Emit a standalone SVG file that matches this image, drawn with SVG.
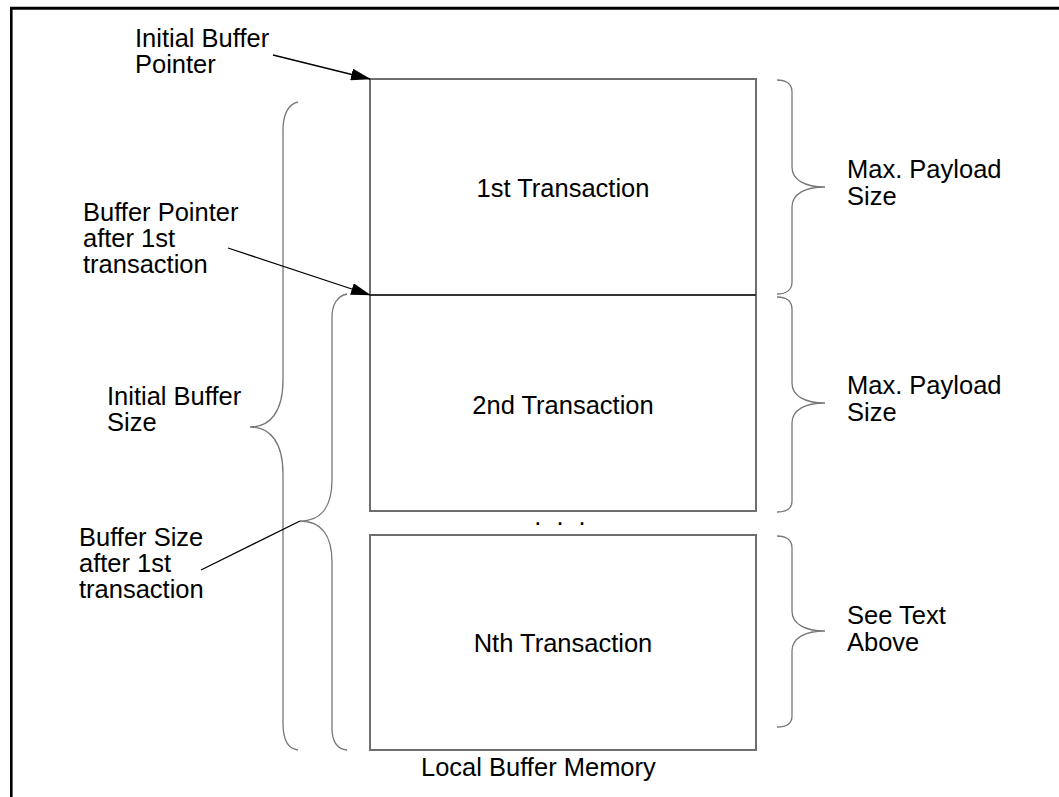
<svg xmlns="http://www.w3.org/2000/svg" width="1059" height="797" viewBox="0 0 1059 797">
<style>
text{font-family:"Liberation Sans",Arial,Helvetica,sans-serif;font-size:25.5px;fill:#000}
.c{text-anchor:middle}
.box{fill:none;stroke:#6e6e6e;stroke-width:2}
.brace{fill:none;stroke:#777;stroke-width:1.3}
.arrow{fill:none;stroke:#000;stroke-width:1.3}
</style>
<defs>
<marker id="ah" markerWidth="20" markerHeight="12" refX="19" refY="6" orient="auto" markerUnits="userSpaceOnUse">
<polygon points="0,0 20,6 0,12" fill="#000"/>
</marker>
</defs>
<rect width="1059" height="797" fill="#fff"/>
<g id="frame">
<line x1="10" y1="8.3" x2="1059" y2="8.3" stroke="#000" stroke-width="3"/>
<line x1="11.3" y1="7" x2="11.3" y2="797" stroke="#000" stroke-width="2.6"/>
</g>
<g id="box1">
<rect class="box" x="370" y="79" width="386" height="216"/>
<text class="c" x="563" y="197">1st Transaction</text>
</g>
<g id="box2">
<rect class="box" x="370" y="295" width="386" height="216"/>
<line x1="370" y1="295" x2="756" y2="295" stroke="#333" stroke-width="2"/>
<text class="c" x="563" y="414">2nd Transaction</text>
</g>
<g id="ellipsis">
<text class="c" x="562" y="525" style="letter-spacing:4px">. . .</text>
</g>
<g id="boxN">
<rect class="box" x="370" y="535" width="386" height="215"/>
<text class="c" x="563" y="652">Nth Transaction</text>
</g>
<g id="memory-label">
<text x="421" y="776">Local Buffer Memory</text>
</g>
<g id="label-initial-pointer">
<text x="135" y="47">Initial Buffer</text>
<text x="135" y="73">Pointer</text>
</g>
<g id="label-pointer-after">
<text x="83" y="221">Buffer Pointer</text>
<text x="83" y="247">after 1st</text>
<text x="83" y="273">transaction</text>
</g>
<g id="label-initial-size">
<text x="107" y="405">Initial Buffer</text>
<text x="107" y="431">Size</text>
</g>
<g id="label-size-after">
<text x="79" y="546">Buffer Size</text>
<text x="79" y="572">after 1st</text>
<text x="79" y="598">transaction</text>
</g>
<g id="label-max1">
<text x="847" y="178">Max. Payload</text>
<text x="847" y="205">Size</text>
</g>
<g id="label-max2">
<text x="847" y="394">Max. Payload</text>
<text x="847" y="421">Size</text>
</g>
<g id="label-see">
<text x="847" y="624">See Text</text>
<text x="847" y="651">Above</text>
</g>
<g id="braces">
<path class="brace" d="M298,102 C288,104 283,115 283,130 L283,380 C283,412 270,427 250,427 C270,427 283,442 283,474 L283,723 C283,740 288,749 298,750"/>
<path class="brace" d="M347,294 C337,296 332,305 332,317 L332,480 C332,508 320,521 300,521 C320,521 332,534 332,562 L332,728 C332,742 337,749 347,750"/>
<path class="brace" d="M777,80 C786,80 792,84 792,92 L792,167 C792,180 805,187 825,187 C805,187 792,194 792,207 L792,282 C792,290 786,294 777,294"/>
<path class="brace" d="M777,297 C786,297 792,301 792,309 L792,383 C792,396 805,403 825,403 C805,403 792,410 792,423 L792,501 C792,509 786,512 777,512"/>
<path class="brace" d="M777,536 C786,536 792,540 792,548 L792,611 C792,624 805,631 825,631 C805,631 792,638 792,651 L792,716 C792,724 786,727 777,727"/>
</g>
<g id="connectors">
<line class="arrow" x1="273" y1="55" x2="370" y2="79" marker-end="url(#ah)"/>
<line class="arrow" x1="228" y1="248" x2="370" y2="295" marker-end="url(#ah)"/>
<line class="arrow" x1="201" y1="570" x2="300" y2="521"/>
</g>
</svg>
